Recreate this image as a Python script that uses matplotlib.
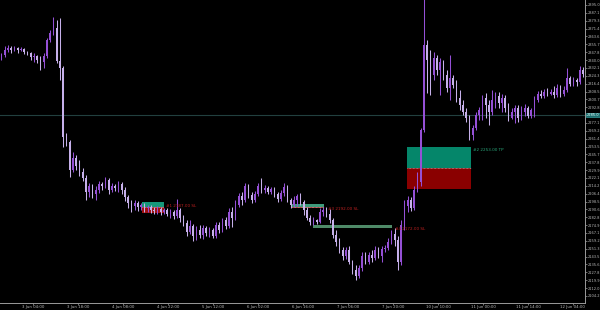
import numpy as np
import matplotlib
matplotlib.use("Agg")
import matplotlib.pyplot as plt
from matplotlib.patches import Rectangle

# ---------------- data ----------------
opens = [2342,2345,2350,2352,2350,2352,2350,2351,2348,2347,2343,2344,2340,2338,2344,2360,2367,2372,2339,2332,
         2263,2258,2230,2242,2234,2228,2222,2208,2214,2206,2210,2216,2214,2220,2210,2214,2212,2216,2210,2203,
         2197,2194,2197,2193,2195,2192,2193,2190,2189,2191,2188,2190,2186,2188,2184,2190,2182,2177,2168,2174,
         2164,2170,2165,2172,2167,2170,2164,2175,2170,2180,2174,2188,2182,2195,2204,2200,2214,2205,2200,2206,
         2214,2210,2212,2208,2211,2206,2201,2207,2213,2200,2195,2200,2204,2198,2190,2182,2178,2180,2178,2188,
         2190,2186,2180,2165,2158,2150,2144,2150,2138,2130,2124,2132,2144,2138,2145,2142,2150,2144,2151,2152,
         2158,2166,2160,2138,2175,2194,2200,2192,2210,2218,2270,2355,2340,2325,2342,2330,2338,2325,2312,2322,
         2315,2302,2295,2288,2282,2265,2272,2285,2290,2302,2295,2288,2300,2304,2297,2302,2292,2282,2288,2292,
         2282,2288,2292,2284,2290,2300,2306,2304,2308,2306,2308,2305,2312,2306,2310,2322,2316,2320,2318,2330]
closes = [2345,2350,2352,2350,2352,2350,2351,2348,2347,2343,2344,2340,2338,2344,2360,2367,2372,2339,2332,2263,
          2258,2230,2242,2234,2228,2222,2208,2214,2206,2210,2216,2214,2220,2210,2214,2212,2216,2210,2203,2197,
          2194,2197,2193,2195,2192,2193,2190,2189,2191,2188,2190,2186,2188,2184,2190,2182,2177,2168,2174,2164,
          2170,2165,2172,2167,2170,2164,2175,2170,2180,2174,2188,2182,2195,2204,2200,2214,2205,2200,2206,2214,
          2210,2212,2208,2211,2206,2201,2207,2213,2200,2195,2200,2204,2198,2190,2182,2178,2180,2178,2188,2190,
          2186,2180,2165,2158,2150,2144,2150,2138,2130,2124,2132,2144,2138,2145,2142,2150,2144,2151,2152,2158,
          2166,2160,2138,2175,2194,2200,2192,2210,2218,2270,2355,2340,2325,2342,2330,2338,2325,2312,2322,2315,
          2302,2295,2288,2282,2265,2272,2285,2290,2302,2295,2288,2300,2304,2297,2302,2292,2282,2288,2292,2282,
          2288,2292,2284,2290,2300,2306,2304,2308,2306,2308,2305,2312,2306,2310,2322,2316,2320,2318,2330,2326]
highs = [2347,2354,2355,2354,2354,2353,2353,2352,2349,2348,2347,2345,2344,2347,2362,2370,2383,2380,2382,2334,
         2267,2260,2248,2245,2240,2232,2225,2217,2216,2214,2219,2218,2223,2222,2217,2216,2219,2218,2213,2205,
         2200,2200,2199,2197,2197,2195,2195,2193,2194,2193,2192,2192,2191,2190,2201,2192,2185,2180,2180,2176,
         2174,2175,2175,2174,2173,2172,2178,2178,2182,2183,2192,2193,2200,2207,2208,2217,2216,2208,2209,2217,
         2222,2215,2214,2213,2213,2208,2210,2217,2215,2202,2204,2206,2207,2200,2193,2185,2183,2181,2192,2193,
         2193,2191,2182,2170,2162,2153,2153,2154,2140,2135,2135,2148,2148,2148,2150,2154,2153,2154,2155,2162,
         2170,2172,2164,2180,2200,2204,2203,2214,2228,2272,2410,2360,2350,2348,2345,2342,2340,2330,2345,2325,
         2320,2310,2300,2292,2285,2275,2288,2293,2305,2307,2300,2310,2308,2308,2306,2305,2297,2292,2295,2295,
         2294,2296,2294,2292,2304,2309,2310,2311,2312,2311,2314,2316,2315,2314,2332,2324,2323,2322,2334,2333]
lows = [2340,2343,2348,2347,2349,2347,2349,2346,2345,2340,2338,2337,2330,2332,2342,2358,2365,2337,2320,2253,
        2254,2223,2228,2230,2224,2219,2200,2203,2202,2200,2207,2210,2212,2206,2208,2209,2208,2206,2199,2192,
        2188,2190,2189,2190,2188,2188,2187,2186,2186,2185,2186,2184,2182,2181,2182,2178,2174,2164,2166,2159,
        2160,2162,2161,2164,2163,2162,2162,2167,2168,2171,2172,2173,2180,2193,2195,2198,2202,2197,2198,2204,
        2207,2207,2206,2206,2203,2198,2199,2204,2198,2192,2193,2194,2195,2185,2180,2175,2175,2176,2177,2184,
        2183,2177,2162,2154,2147,2140,2141,2136,2126,2120,2122,2129,2136,2136,2138,2140,2142,2138,2148,2150,
        2156,2154,2130,2135,2170,2188,2189,2190,2208,2214,2268,2307,2305,2320,2325,2305,2320,2308,2300,2312,
        2298,2290,2285,2278,2260,2260,2270,2280,2280,2282,2275,2285,2292,2292,2288,2288,2279,2281,2277,2278,
        2280,2284,2282,2282,2283,2298,2302,2302,2304,2305,2302,2303,2303,2304,2308,2314,2314,2314,2316,2323]

time_labels = ["3 Jun 04:00", "3 Jun 18:00", "4 Jun 08:00", "4 Jun 22:00", "5 Jun 12:00",
               "6 Jun 02:00", "6 Jun 16:00", "7 Jun 06:00", "7 Jun 20:00", "10 Jun 10:00",
               "11 Jun 00:00", "11 Jun 14:00", "12 Jun 04:00"]
time_tick_pos = [9.7, 23.5, 37.4, 51.2, 65.1, 78.9, 92.8, 106.6, 120.5, 134.3, 148.2, 162.0, 175.8]

price_ticks = [round(2395 - 7.86 * k, 1) for k in range(38)]
hline_price = 2285.0

# trade boxes: start, end (candle index), take-profit, entry, stop-loss
box_start = [124.8, 43.2, 89.4]
box_end = [144.5, 50.0, 99.2]
box_tp = [2253, 2198, 2196]
box_entry = [2232, 2193, 2193]
box_sl = [2211, 2187, 2192]
box_green = ["#05866a", "#16987a", "#3f9a7c"]
box_red = ["#8a0000", "#a01010", "#a02020"]

line_start, line_end, line_top, line_bot = 95.8, 120.2, 2175, 2172

# ---------------- figure ----------------
fig = plt.figure(figsize=(6, 3.1), dpi=100, facecolor="black")
ax = fig.add_axes([0, 7 / 310, 585 / 600, 303 / 310], facecolor="black")

idx = np.arange(len(closes))
o = np.array(opens, float)
c = np.array(closes, float)
h = np.array(highs, float)
l = np.array(lows, float)
bull = c >= o
col_up = "#9550d6"
col_dn = "#c6b0ea"
colors = np.where(bull, col_up, col_dn)

# trade boxes (behind candles)
for s, e, tp, en, sl, g, r in zip(box_start, box_end, box_tp, box_entry, box_sl, box_green, box_red):
    ax.add_patch(Rectangle((s, en), e - s, tp - en, facecolor=g, edgecolor="none", zorder=1))
    ax.add_patch(Rectangle((s, sl), e - s, en - sl, facecolor=r, edgecolor="none", zorder=1))
    ax.plot([s, e], [en, en], color="#d0d0d0", lw=0.5, ls=(0, (1, 1)), zorder=1.5)
ax.add_patch(Rectangle((line_start, line_bot), line_end - line_start, line_top - line_bot,
                       facecolor="#4f8a68", edgecolor="none", zorder=1))

# horizontal price line
ax.axhline(hline_price, color="#22403f", lw=0.8, zorder=0.5)

# candles
ax.vlines(idx, l, h, colors=colors, lw=0.75, zorder=2)
body_h = np.maximum(np.abs(c - o), 0.8)
ax.bar(idx, body_h, bottom=np.minimum(o, c), width=0.6, color=colors, linewidth=0, zorder=3)

# trade labels
fs = 3.0
ax.text(145.0, 2250, "#2 2253.00 TP", color="#2aa87c", fontsize=fs, va="center", ha="left", zorder=4)
ax.text(50.6, 2194, "#1 2187.00 SL", color="#c02020", fontsize=fs, va="center", ha="left", zorder=4)
ax.text(100.5, 2191, "#3 2192.00 SL", color="#c02020", fontsize=fs, va="center", ha="left", zorder=4)
ax.text(121.1, 2171, "#4 2172.00 SL", color="#c02020", fontsize=fs, va="center", ha="left", zorder=4)

# axes / ticks
ax.set_xlim(-0.46, 179.54)
ax.set_ylim(2097, 2400)
for sp in ["top", "left"]:
    ax.spines[sp].set_visible(False)
for sp in ["right", "bottom"]:
    ax.spines[sp].set_color("#9a9a9a")
    ax.spines[sp].set_linewidth(0.7)

ax.yaxis.tick_right()
ax.set_yticks(price_ticks)
ax.set_yticklabels([f"{p:.1f}" for p in price_ticks])
ax.set_xticks(time_tick_pos)
ax.set_xticklabels(time_labels)
ax.tick_params(axis="y", colors="#9a9a9a", labelcolor="#b8b8b8", labelsize=2.6,
               length=1.2, width=0.5, pad=0.5)
ax.tick_params(axis="x", colors="#9a9a9a", labelcolor="#b8b8b8", labelsize=2.8,
               length=1.2, width=0.5, pad=0.3)

# current-price style label on the horizontal line
ax.text(1.003, hline_price, f"{hline_price:.1f}", transform=ax.get_yaxis_transform(),
        color="#e8ffff", fontsize=2.6, va="center", ha="left", zorder=5,
        bbox=dict(boxstyle="square,pad=0.1", facecolor="#1d6e6e", edgecolor="#3fb0b0", lw=0.4),
        clip_on=False)

fig.savefig("out.png", dpi=100, facecolor="black")
